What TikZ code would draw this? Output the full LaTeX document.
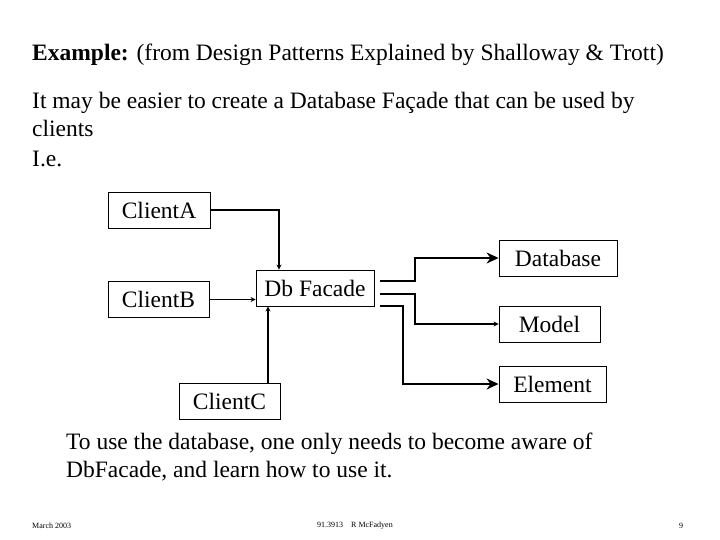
\documentclass[tikz,border=0pt]{standalone}
\usepackage{fontspec}
\setmainfont{Liberation Serif}
\usetikzlibrary{calc,arrows.meta}
\begin{document}
\begin{tikzpicture}[x=1pt,y=-1pt,
  box/.style={draw,line width=0.9pt,minimum height=36pt,inner sep=0pt,font=\fontsize{23.5}{26}\selectfont},
  txt/.style={anchor=west,inner sep=0pt,font=\fontsize{23.5}{28}\selectfont,align=left},
  foot/.style={inner sep=0pt,font=\fontsize{8}{10}\selectfont},
  con/.style={line width=1.6pt},
  big/.style={con,-{Stealth[length=12pt,width=11pt]}},
  small/.style={con,-{Stealth[length=5pt,width=5pt]}}]
\useasboundingbox (0,0) rectangle (720,540);
\node[txt] (t1) at (32,55) {\textbf{Example:} (from Design Patterns Explained by Shalloway \& Trott)};
\node[txt] (t2) at (32,114) {It may be easier to create a Database Façade that can be used by\\clients};
\node[txt] (t3) at (32,159) {I.e.};
\node[box,minimum width=102pt] (ca) at (159,210) {ClientA};
\node[box,minimum width=101pt] (cb) at (158.5,299.5) {ClientB};
\node[box,minimum width=101pt] (cc) at (229.5,401) {ClientC};
\node[box,minimum width=118pt] (fa) at (315,288) {Db Facade};
\node[box,minimum width=118pt] (db) at (558,258) {Database};
\node[box,minimum width=101pt] (mo) at (549.5,324) {Model};
\node[box,minimum width=107pt] (el) at (552.5,384) {Element};
\draw[small] (ca.east) -| (fa.north -| 279,0);
\draw[small] (cb.east) -- (cb.east -| fa.west);
\draw[small] (cc.north -| 268,0) -- (268,0 |- fa.south);
\coordinate (r1) at (380,281);
\coordinate (r2) at (380,294);
\coordinate (r3) at (380,306);
\draw[big] (r1) -- (415,281) |- (db.west);
\draw[small] (r2) -- (415,294) |- (mo.west);
\draw[big] (r3) -- (403,306) |- (el.west);
\node[txt] (t4) at (66,457) {To use the database, one only needs to become aware of\\DbFacade, and learn how to use it.};
\node[foot,anchor=west] (f1) at (32,526) {March 2003};
\node[foot] (f2) at (355,526) {91.3913\quad R McFadyen};
\node[foot] (f3) at (681,526) {9};
\end{tikzpicture}
\end{document}
